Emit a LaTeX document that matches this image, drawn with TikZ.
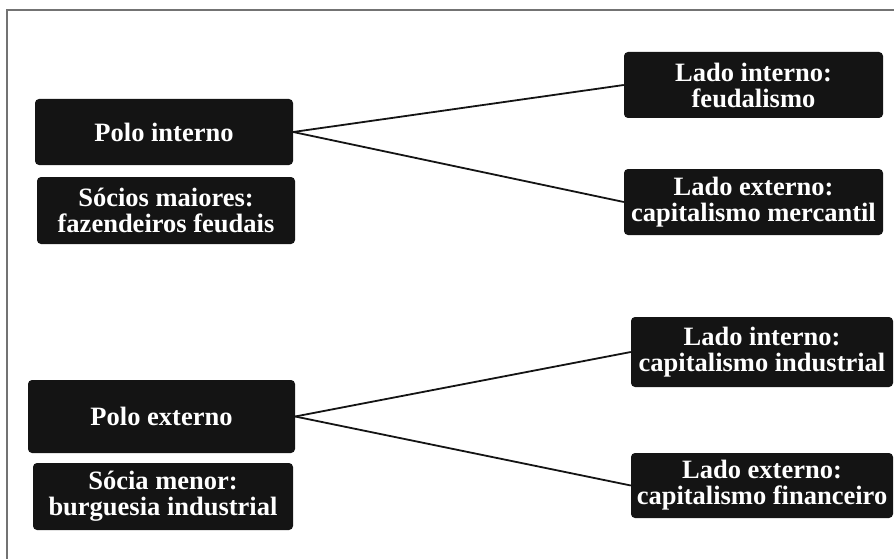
\documentclass[tikz,border=0pt]{standalone}
\usepackage{fontspec}
\setmainfont{Liberation Serif}
\usetikzlibrary{positioning, calc}
\definecolor{boxblack}{rgb}{0.08,0.08,0.08}
\definecolor{framegray}{rgb}{0.45,0.45,0.45}

\tikzset{
    darkbox/.style={fill=boxblack, rounded corners=4pt, text=white, align=center,
        inner sep=0pt, font=\bfseries\fontsize{26.5}{26}\selectfont},
    link/.style={line width=1.8pt, boxblack}
}

\begin{document}
\begin{tikzpicture}[x=1pt, y=-1pt]
        \useasboundingbox (0,0) rectangle (894,559);
        \draw[framegray, line width=1.2pt] (7,559) -- (7,10) -- (894,10);
        % upper group
        \node[darkbox, minimum width=258pt, minimum height=66pt] (poloint) at (164,132) {Polo interno};
        \node[darkbox, minimum width=258pt, minimum height=67pt] (sociomaior) at (166,210.5) {Sócios maiores:\\fazendeiros feudais};
        \node[darkbox, minimum width=259pt, minimum height=66pt] (ladoint1) at (753.5,85) {Lado interno:\\feudalismo};
        \node[darkbox, minimum width=259pt, minimum height=66pt] (ladoext1) at (753.5,202) {Lado externo:\\capitalismo mercantil};
        \draw[link] (poloint.east) -- (ladoint1.west);
        \draw[link] (poloint.east) -- (ladoext1.west);
        % lower group
        \node[darkbox, minimum width=267pt, minimum height=73pt] (poloext) at (161.5,416.5) {Polo externo};
        \node[darkbox, minimum width=260pt, minimum height=67pt] (sociamenor) at (163,496.5) {Sócia menor:\\burguesia industrial};
        \node[darkbox, minimum width=262pt, minimum height=70pt] (ladoint2) at (762,352) {Lado interno:\\capitalismo industrial};
        \node[darkbox, minimum width=262pt, minimum height=65pt] (ladoext2) at (762,485.5) {Lado externo:\\capitalismo financeiro};
        \draw[link] (poloext.east) -- (ladoint2.west);
        \draw[link] (poloext.east) -- (ladoext2.west);
\end{tikzpicture}
\end{document}
